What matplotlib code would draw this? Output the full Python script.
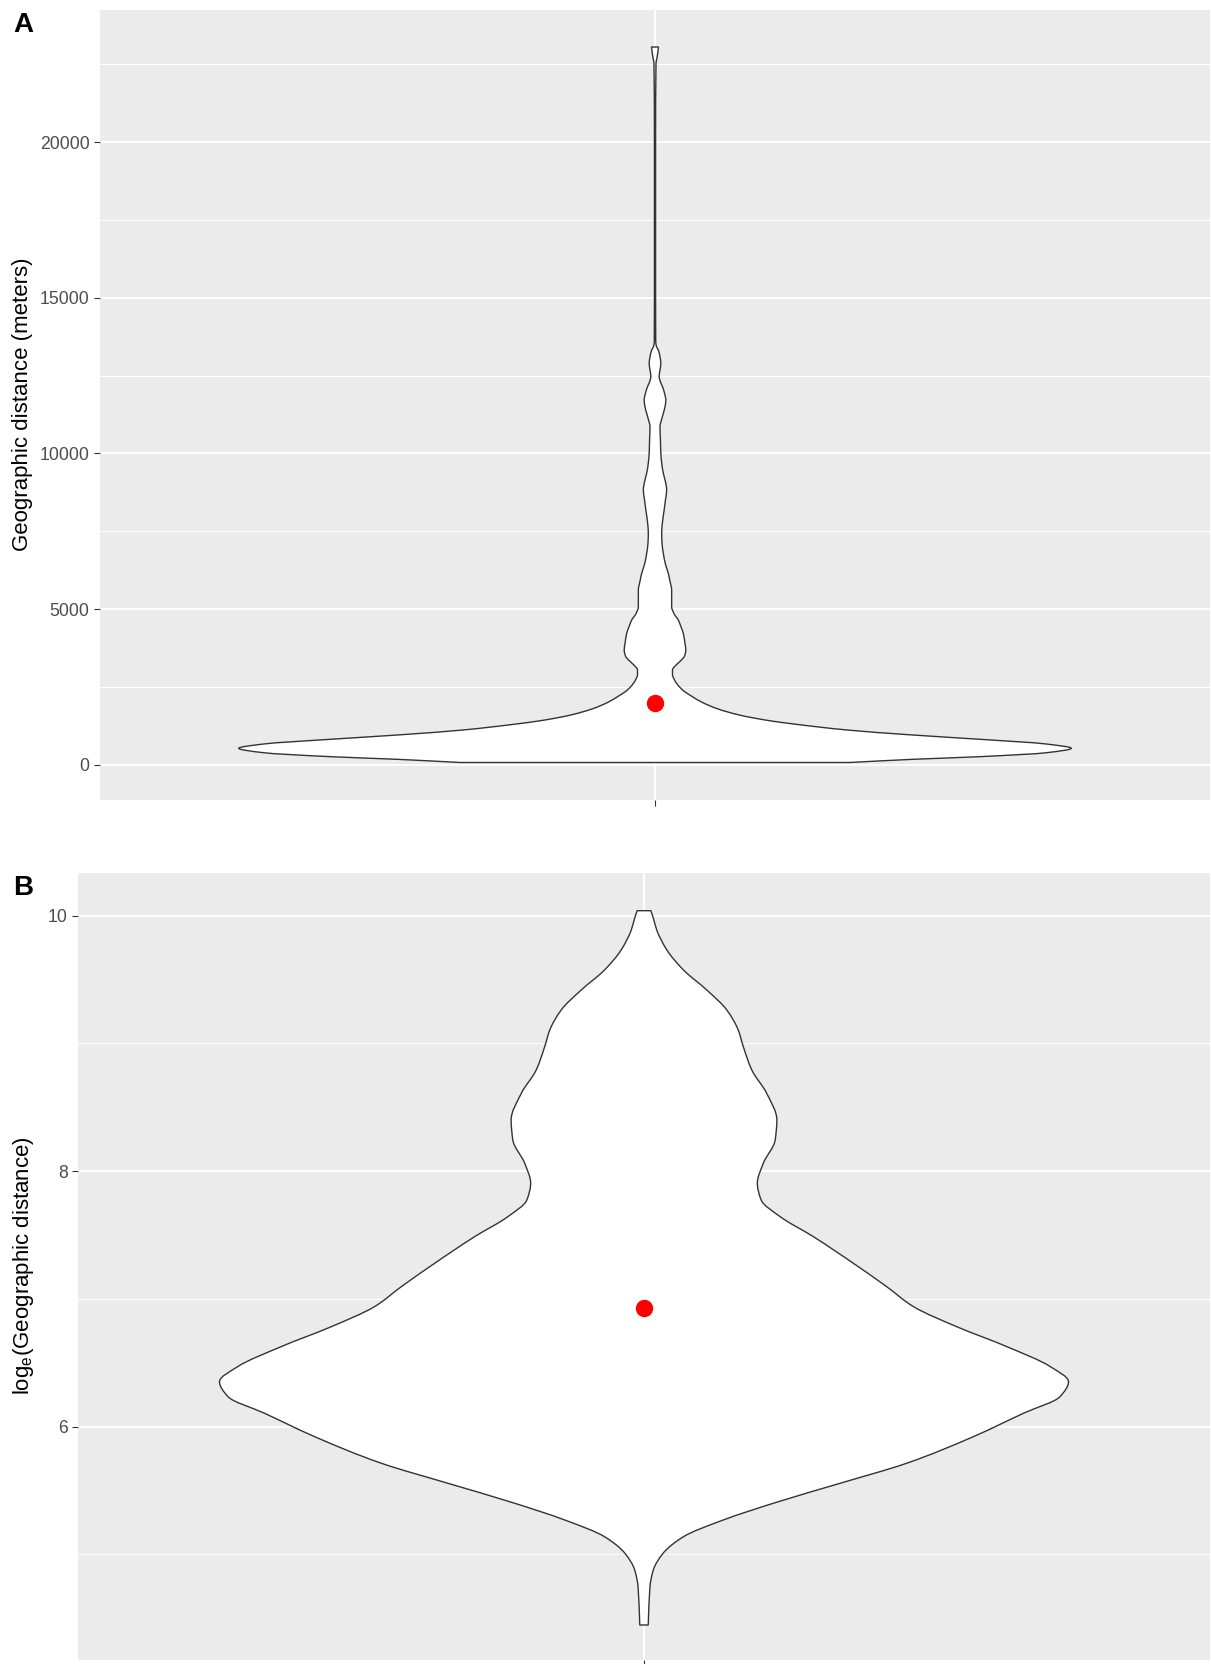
import matplotlib
matplotlib.use("Agg")
import matplotlib.pyplot as plt
from matplotlib.path import Path
from matplotlib.patches import PathPatch
import numpy as np

plt.rcParams['font.family'] = ['Liberation Sans', 'DejaVu Sans']
plt.rcParams['mathtext.fontset'] = 'custom'
plt.rcParams['mathtext.rm'] = 'Liberation Sans'
plt.rcParams['mathtext.it'] = 'Liberation Sans'

# ---- Panel A: geographic distance (m), violin profile (value, relative density width)
a_y = [80, 182, 267, 395, 536, 674, 825, 963, 1124,
       1300, 1420, 1600, 1800, 2000, 2200, 2400, 2600, 2750, 2900,
       3050, 3200, 3350, 3500, 3692, 3900, 4228, 4450, 4655, 4850,
       5083, 5350, 5618, 5900, 6153, 6450, 6795, 7100, 7437, 7800,
       8186, 8500, 8828, 9100, 9364, 9700, 10006, 10450, 10862, 11100,
       11290, 11500, 11717, 11930, 12145, 12300, 12466, 12680, 12896, 13100,
       13323, 13430, 13600, 16000, 20000, 22500, 22800, 23050]
a_w = [0.468, 0.619, 0.780, 0.941, 1.0, 0.940, 0.780, 0.619, 0.461,
       0.343, 0.276, 0.204, 0.151, 0.115, 0.089, 0.067, 0.053, 0.046, 0.042,
       0.042, 0.050, 0.062, 0.071, 0.074, 0.072, 0.068, 0.062, 0.056, 0.046,
       0.040, 0.040, 0.040, 0.036, 0.032, 0.025, 0.020, 0.017, 0.016, 0.018,
       0.022, 0.025, 0.028, 0.025, 0.020, 0.016, 0.014, 0.013, 0.012, 0.016,
       0.020, 0.024, 0.026, 0.023, 0.018, 0.013, 0.010, 0.012, 0.014, 0.012,
       0.008, 0.0036, 0.0017, 0.0014, 0.0014, 0.0024, 0.006, 0.0084]
a_mean = 1980
a_major = [0, 5000, 10000, 15000, 20000]
a_minor = [2500, 7500, 12500, 17500, 22500]
a_ylim = (-1124, 24238)
a_label = "Geographic distance (meters)"

# ---- Panel B: log_e(geographic distance)
b_y = [4.448, 4.748, 4.879, 5.009, 5.139, 5.270, 5.401, 5.557, 5.714, 5.922,
       6.105, 6.235, 6.352, 6.470, 6.626, 6.782, 6.939, 7.095,
       7.279, 7.487, 7.643, 7.774, 7.905, 8.061, 8.243, 8.400, 8.609, 8.791,
       8.973, 9.104, 9.261, 9.417, 9.574, 9.730, 9.887, 9.991, 10.038]
b_w = [0.010, 0.014, 0.022, 0.045, 0.093, 0.187, 0.305, 0.462, 0.619, 0.776,
       0.894, 0.980, 1.000, 0.957, 0.855, 0.737, 0.635, 0.572,
       0.493, 0.399, 0.321, 0.276, 0.267, 0.281, 0.309, 0.313, 0.289, 0.254,
       0.234, 0.222, 0.195, 0.148, 0.093, 0.054, 0.030, 0.021, 0.016]
b_mean = 6.926
b_major = [6, 8, 10]
b_minor = [5, 7, 9]
b_ylim = (4.174, 10.333)
b_label = r"log$_{\mathrm{e}}$(Geographic distance)"

W, H = 1211, 1664
fig = plt.figure(figsize=(W / 100, H / 100), dpi=100)


def hermite_slopes(y, x):
    """Monotone (PCHIP-style) slopes dx/dy at each read point."""
    h = np.diff(y)
    d = np.diff(x) / h
    n = len(x)
    m = np.zeros(n)
    m[0], m[-1] = d[0], d[-1]
    for k in range(1, n - 1):
        if d[k - 1] * d[k] > 0:
            w1 = 2 * h[k] + h[k - 1]
            w2 = h[k] + 2 * h[k - 1]
            m[k] = (w1 + w2) / (w1 / d[k - 1] + w2 / d[k])
    return m


def side_curves(y, x, m, reverse=False):
    """Bezier segments through the read points of one side of the violin."""
    pairs = [(i, i + 1) for i in range(len(y) - 1)]
    if reverse:
        pairs = [(j, i) for (i, j) in pairs[::-1]]
    verts, codes = [], []
    for a, b in pairs:
        hh = (y[b] - y[a]) / 3.0
        verts += [(x[a] + m[a] * hh, y[a] + hh), (x[b] - m[b] * hh, y[b] - hh), (x[b], y[b])]
        codes += [Path.CURVE4] * 3
    return verts, codes


def panel(rect, ys, ws, mean, major, minor, ylim):
    ax = fig.add_axes(rect)
    ax.set_facecolor('#EBEBEB')
    for s in ax.spines.values():
        s.set_visible(False)
    ax.set_xlim(0.4, 1.6)
    ax.set_ylim(*ylim)
    ax.set_yticks(major)
    ax.set_yticks(minor, minor=True)
    ax.set_yticklabels([str(v) for v in major])
    ax.set_xticks([1])
    ax.set_xticklabels([''])
    ax.grid(True, which='major', color='white', lw=1.4)
    ax.grid(True, which='minor', axis='y', color='white', lw=0.7)
    ax.tick_params(axis='both', which='major', length=4, width=0.8,
                   color='#333333', labelsize=12.7, labelcolor='#4D4D4D', pad=3.5)
    ax.tick_params(axis='y', which='minor', length=0)
    ax.set_axisbelow(True)

    ys = np.asarray(ys, float)
    hw = np.asarray(ws, float) * 0.45
    xr = 1 + hw
    xl = 1 - hw
    mr = hermite_slopes(ys, xr)
    ml = -mr
    verts = [(xr[0], ys[0])]
    codes = [Path.MOVETO]
    v, c = side_curves(ys, xr, mr)
    verts += v; codes += c
    verts.append((xl[-1], ys[-1])); codes.append(Path.LINETO)
    v, c = side_curves(ys, xl, ml, reverse=True)
    verts += v; codes += c
    verts.append((xr[0], ys[0])); codes.append(Path.CLOSEPOLY)
    patch = PathPatch(Path(verts, codes), facecolor='white', edgecolor='#333333',
                      lw=1.0, zorder=3)
    ax.add_patch(patch)
    ax.plot([1], [mean], 'o', color='#FF0000', markersize=11.5, zorder=4)
    return ax


axA = panel([100 / W, 1 - 800 / H, 1110 / W, 790 / H], a_y, a_w, a_mean,
            a_major, a_minor, a_ylim)
axB = panel([78 / W, 1 - 1660 / H, 1132 / W, 787 / H], b_y, b_w, b_mean,
            b_major, b_minor, b_ylim)

fig.text(23 / W, 1 - 404 / H, a_label, rotation=90, ha='center', va='center',
         fontsize=16, color='black')
fig.text(24 / W, 1 - 1266 / H, b_label, rotation=90, ha='center', va='center',
         fontsize=16, color='black')
fig.text(13 / W, 1 - 31.5 / H, 'A', fontsize=20, fontweight='bold', ha='left', va='baseline')
fig.text(13 / W, 1 - 895 / H, 'B', fontsize=20, fontweight='bold', ha='left', va='baseline')

fig.savefig('out.png', dpi=100, facecolor='white')
